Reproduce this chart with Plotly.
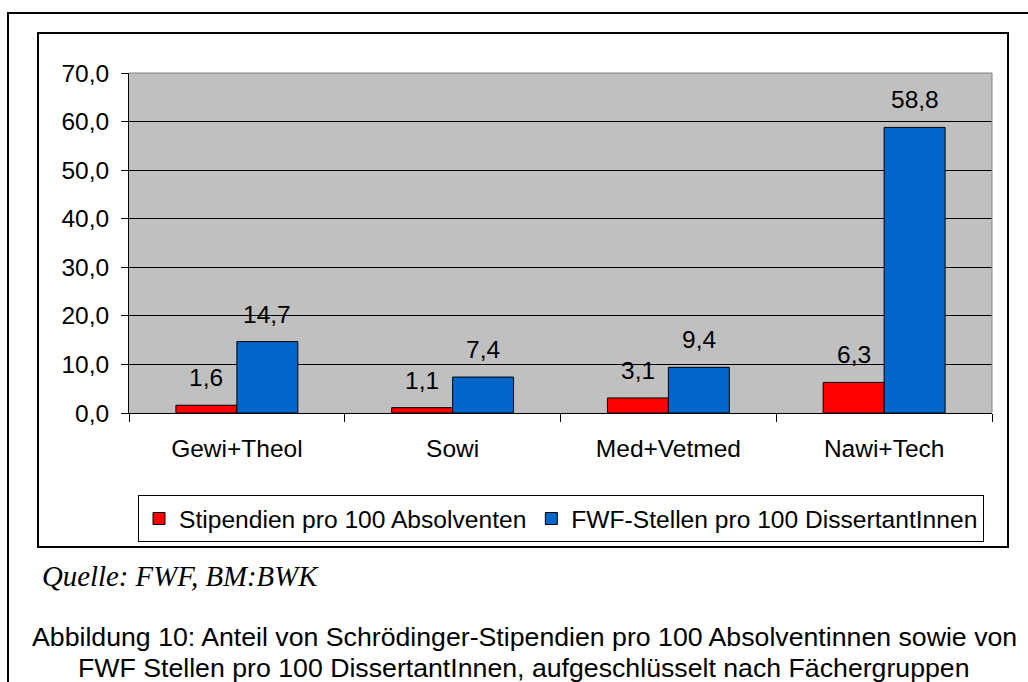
import plotly.graph_objects as go

categories = ["Gewi+Theol", "Sowi", "Med+Vetmed", "Nawi+Tech"]
stipendien = [1.6, 1.1, 3.1, 6.3]
fwf_stellen = [14.7, 7.4, 9.4, 58.8]
series_names = ["Stipendien pro 100 Absolventen", "FWF-Stellen pro 100 DissertantInnen"]
y_ticks = [0, 10, 20, 30, 40, 50, 60, 70]
source_text = "Quelle: FWF, BM:BWK"
caption_lines = [
    "Abbildung 10: Anteil von Schrödinger-Stipendien pro 100 Absolventinnen sowie von",
    "FWF Stellen pro 100 DissertantInnen, aufgeschlüsselt nach Fächergruppen",
]

W, H = 1028, 682
ML, MR, MT, MB = 129, 36, 73, 269
PW, PH = W - ML - MR, H - MT - MB


def xp(px):
    return (px - ML) / PW


def yp(py):
    return (H - MB - py) / PH


FONT = "Arial, Liberation Sans, sans-serif"
RED = "#FF0000"
BLUE = "#0066CC"

fig = go.Figure()
fig.add_trace(go.Bar(x=categories, y=stipendien, name=series_names[0],
                     marker=dict(color=RED, line=dict(color="black", width=1))))
fig.add_trace(go.Bar(x=categories, y=fwf_stellen, name=series_names[1],
                     marker=dict(color=BLUE, line=dict(color="black", width=1))))

# value labels
for vals, shift in ((stipendien, -30.5), (fwf_stellen, 30.5)):
    for c, v in zip(categories, vals):
        fig.add_annotation(x=c, y=v, xref="x", yref="y", text=f"{v:.1f}".replace(".", ","),
                           showarrow=False, xshift=shift, yshift=12, yanchor="bottom",
                           font=dict(family=FONT, size=24.5, color="black"))

shapes = [
    # outer frame (cut by the image edges)
    dict(type="rect", xref="paper", yref="paper", x0=xp(8), x1=xp(1045), y0=yp(705), y1=yp(13),
         line=dict(color="black", width=2), layer="below"),
    # chart frame
    dict(type="rect", xref="paper", yref="paper", x0=xp(38), x1=xp(1008), y0=yp(547), y1=yp(33),
         line=dict(color="black", width=2), layer="below"),
    # plot area top/right border
    dict(type="line", xref="paper", yref="paper", x0=0, x1=1, y0=1, y1=1,
         line=dict(color="#808080", width=1), layer="above"),
    dict(type="line", xref="paper", yref="paper", x0=1, x1=1, y0=0, y1=1,
         line=dict(color="#808080", width=1), layer="above"),
]

annotations = [
    dict(xref="paper", yref="paper", x=xp(40), y=yp(576), xanchor="left", yanchor="middle",
         text=f"<i>{source_text}</i>", showarrow=False,
         font=dict(family="Times New Roman, Liberation Serif, serif", size=28.8, color="black")),
    dict(xref="paper", yref="paper", x=xp(524), y=yp(637), xanchor="center", yanchor="middle",
         text=caption_lines[0], showarrow=False,
         font=dict(family=FONT, size=26.7, color="black")),
    dict(xref="paper", yref="paper", x=xp(524), y=yp(668), xanchor="center", yanchor="middle",
         text=caption_lines[1], showarrow=False,
         font=dict(family=FONT, size=26.7, color="black")),
]
for a in annotations:
    fig.add_annotation(**a)

fig.update_layout(
    width=W, height=H,
    margin=dict(l=ML, r=MR, t=MT, b=MB, pad=0),
    paper_bgcolor="white",
    plot_bgcolor="#C0C0C0",
    separators=",.",
    barmode="group",
    bargap=0.435,
    bargroupgap=0,
    font=dict(family=FONT, size=24, color="black"),
    shapes=shapes,
    showlegend=True,
    legend=dict(orientation="h", x=xp(138), y=yp(495), xanchor="left", yanchor="top",
                bgcolor="white", bordercolor="black", borderwidth=1,
                font=dict(family=FONT, size=24.6, color="black"),
                traceorder="normal"),
    xaxis=dict(type="category", range=[-0.5, 3.5], showline=True, linecolor="black", linewidth=1,
               ticks="outside", tickson="boundaries", ticklen=8, tickcolor="black",
               ticklabelstandoff=14, showgrid=False, zeroline=False, fixedrange=True,
               tickfont=dict(family=FONT, size=24.5, color="black")),
    yaxis=dict(range=[0, 70], tickvals=y_ticks, tickformat=".1f", showline=True,
               linecolor="black", linewidth=1, ticks="outside", ticklen=7, tickcolor="black",
               ticklabelstandoff=7, showgrid=True, gridcolor="black", gridwidth=1,
               zeroline=False, fixedrange=True,
               tickfont=dict(family=FONT, size=24.5, color="black")),
)

fig.write_html("out.html", config={"displayModeBar": False},
               post_script="document.body.style.margin='0';document.body.style.overflow='hidden';")
